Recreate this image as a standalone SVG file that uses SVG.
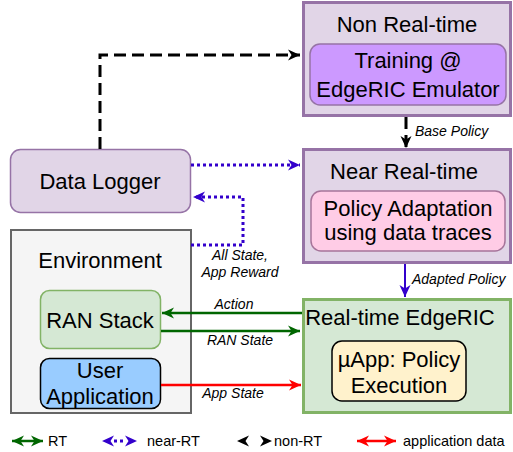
<svg xmlns="http://www.w3.org/2000/svg" width="513" height="452" viewBox="0 0 513 452">
<style>
text{font-family:"Liberation Sans",Arial,sans-serif;fill:#000}
.big{font-size:22px;text-anchor:middle}
.lbl{font-size:14px;font-style:italic}
.leg{font-size:14.5px}
.outer{fill:#e1d5e7;stroke:#9673a6;stroke-width:3}
</style>
<defs>
<marker id="mk" markerUnits="userSpaceOnUse" markerWidth="14" markerHeight="14" refX="12" refY="7" orient="auto-start-reverse"><path d="M0,1.5 L12,7 L0,12.5 L3.5,7 z" fill="#000"/></marker>
<marker id="mb" markerUnits="userSpaceOnUse" markerWidth="14" markerHeight="14" refX="12" refY="7" orient="auto-start-reverse"><path d="M0,1.5 L12,7 L0,12.5 L3.5,7 z" fill="#3300cc"/></marker>
<marker id="mg" markerUnits="userSpaceOnUse" markerWidth="14" markerHeight="14" refX="12" refY="7" orient="auto-start-reverse"><path d="M0,1.5 L12,7 L0,12.5 L3.5,7 z" fill="#006600"/></marker>
<marker id="mr" markerUnits="userSpaceOnUse" markerWidth="14" markerHeight="14" refX="12" refY="7" orient="auto-start-reverse"><path d="M0,1.5 L12,7 L0,12.5 L3.5,7 z" fill="#ff0000"/></marker>
</defs>

<g id="nonrt">
<rect class="outer" x="303.5" y="2.5" width="207" height="113"/>
<text class="big" x="407" y="32">Non Real-time</text>
<rect x="310" y="44" width="196" height="61" rx="10" fill="#cc99ff" stroke="#9673a6" stroke-width="1.5"/>
<text class="big" x="408" y="68">Training @</text>
<text class="big" x="408" y="97">EdgeRIC Emulator</text>
</g>

<g id="nearrt">
<rect class="outer" x="303.5" y="149.5" width="207" height="113"/>
<text class="big" x="404" y="179">Near Real-time</text>
<rect x="311" y="191" width="194" height="60" rx="10" fill="#ffcce6" stroke="#a6749a" stroke-width="1.5"/>
<text class="big" x="408" y="216">Policy Adaptation</text>
<text class="big" x="408" y="240">using data traces</text>
</g>

<g id="rt">
<rect x="303.5" y="299.5" width="207" height="113" fill="#d5e8d4" stroke="#82b366" stroke-width="3"/>
<text class="big" x="400" y="325">Real-time EdgeRIC</text>
<rect x="332" y="341" width="134" height="60" rx="10" fill="#fff2cc" stroke="#000" stroke-width="1.5"/>
<text class="big" x="399" y="367">µApp: Policy</text>
<text class="big" x="399" y="393">Execution</text>
</g>

<g id="logger">
<rect x="10.5" y="149.5" width="180" height="63" rx="10" fill="#e1d5e7" stroke="#9673a6" stroke-width="1.5"/>
<text class="big" x="100" y="189">Data Logger</text>
</g>

<g id="environment">
<rect x="11" y="230" width="180" height="183" fill="#f5f5f5" stroke="#666666" stroke-width="2"/>
<text class="big" x="100" y="268">Environment</text>
</g>

<g id="ran">
<rect x="40.5" y="290.5" width="120" height="58" rx="9" fill="#d5e8d4" stroke="#82b366" stroke-width="1.5"/>
<text class="big" x="100" y="328">RAN Stack</text>
</g>

<g id="userapp">
<rect x="40.5" y="358.5" width="120" height="50" rx="9" fill="#99ccff" stroke="#000" stroke-width="1.5"/>
<text class="big" x="100" y="378">User</text>
<text class="big" x="100" y="404">Application</text>
</g>

<g id="connectors" fill="none">
<path d="M100,149 V55 H300" stroke="#000" stroke-width="3" stroke-dasharray="12 6" marker-end="url(#mk)"/>
<path d="M406,117 V148" stroke="#000" stroke-width="3" stroke-dasharray="12 6" marker-end="url(#mk)"/>
<path d="M191,165 H300" stroke="#3300cc" stroke-width="3" stroke-dasharray="3 3" marker-end="url(#mb)"/>
<path d="M191,245 H243 V197 H193" stroke="#3300cc" stroke-width="3" stroke-dasharray="3 3" marker-end="url(#mb)"/>
<path d="M405,264 V297" stroke="#3300cc" stroke-width="2" marker-end="url(#mb)"/>
<path d="M302,313 H162" stroke="#006600" stroke-width="2.5" marker-end="url(#mg)"/>
<path d="M161,331 H300" stroke="#006600" stroke-width="2.5" marker-end="url(#mg)"/>
<path d="M161,385 H301" stroke="#ff0000" stroke-width="2.5" marker-end="url(#mr)"/>
</g>

<g id="labels">
<text class="lbl" x="415" y="136">Base Policy</text>
<text class="lbl" x="412" y="284">Adapted Policy</text>
<text class="lbl" x="240" y="260" text-anchor="middle">All State,</text>
<text class="lbl" x="240" y="277" text-anchor="middle">App Reward</text>
<text class="lbl" x="234" y="309" text-anchor="middle">Action</text>
<text class="lbl" x="240" y="345" text-anchor="middle">RAN State</text>
<text class="lbl" x="233" y="398" text-anchor="middle">App State</text>
</g>

<g id="legend">
<path d="M12,441 H43" stroke="#006600" stroke-width="2.5" fill="none" marker-start="url(#mg)" marker-end="url(#mg)"/>
<text class="leg" x="48" y="446">RT</text>
<path d="M102,441 H137" stroke="#3300cc" stroke-width="3" stroke-dasharray="0 12 3 3 3 100" fill="none" marker-start="url(#mb)" marker-end="url(#mb)"/>
<text class="leg" x="147" y="446">near-RT</text>
<path d="M237,441 H272" stroke="#000" stroke-width="3" stroke-dasharray="0 100" fill="none" marker-start="url(#mk)" marker-end="url(#mk)"/>
<text class="leg" x="274" y="446">non-RT</text>
<path d="M357,441 H396" stroke="#ff0000" stroke-width="2.5" fill="none" marker-start="url(#mr)" marker-end="url(#mr)"/>
<text class="leg" x="403" y="446">application data</text>
</g>
</svg>
